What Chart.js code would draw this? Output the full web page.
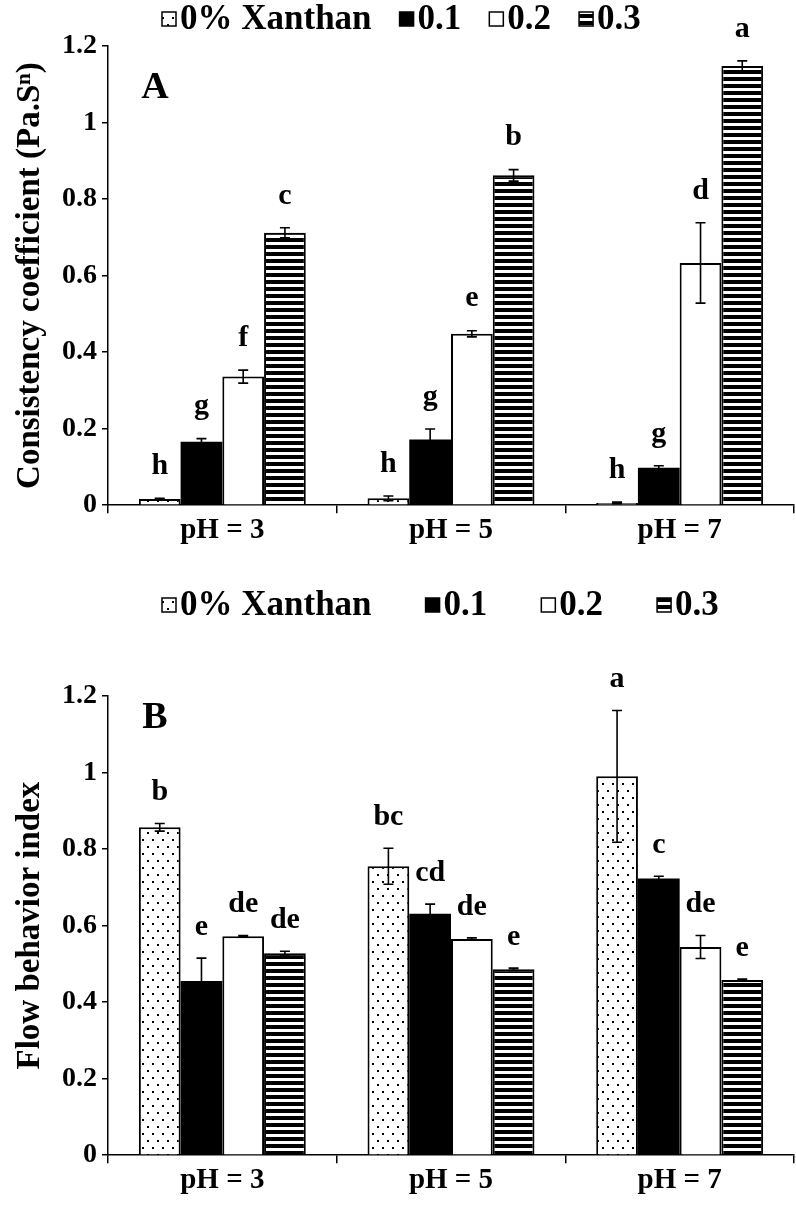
<!DOCTYPE html>
<html><head><meta charset="utf-8">
<script src="https://cdn.jsdelivr.net/npm/chart.js@4.4.0/dist/chart.umd.min.js"></script>
<style>
html,body{margin:0;padding:0;background:#fff;}
#wrap{width:796px;height:1212px;position:relative;background:#fff;}
canvas{display:block;}
</style></head><body>
<div id="wrap">
<div style="position:absolute;left:0;top:0;width:796px;height:570px"><canvas id="cA" width="796" height="570"></canvas></div>
<div style="position:absolute;left:0;top:570px;width:796px;height:642px"><canvas id="cB" width="796" height="642"></canvas></div>
</div>
<script>
// ---------- data ----------
const categories = ['pH = 3', 'pH = 5', 'pH = 7'];
const seriesNames = ['0% Xanthan', '0.1', '0.2', '0.3'];

// Panel A: consistency coefficient (Pa.S^n)
const consistency0  = [0.016, 0.018, 0.006];
const consistency01 = [0.166, 0.172, 0.098];
const consistency02 = [0.336, 0.448, 0.633];
const consistency03 = [0.712, 0.862, 1.148];
const consistencyErr0  = [0.002, 0.006, 0.002];
const consistencyErr01 = [0.008, 0.027, 0.005];
const consistencyErr02 = [0.017, 0.008, 0.105];
const consistencyErr03 = [0.013, 0.015, 0.013];
const consistencyLetters0  = ['h', 'h', 'h'];
const consistencyLetters01 = ['g', 'g', 'g'];
const consistencyLetters02 = ['f', 'e', 'd'];
const consistencyLetters03 = ['c', 'b', 'a'];

// Panel B: flow behavior index
const flow0  = [0.857, 0.755, 0.990];
const flow01 = [0.455, 0.631, 0.723];
const flow02 = [0.572, 0.565, 0.544];
const flow03 = [0.528, 0.486, 0.458];
const flowErr0  = [0.010, 0.047, 0.172];
const flowErr01 = [0.060, 0.025, 0.006];
const flowErr02 = [0.002, 0.003, 0.030];
const flowErr03 = [0.005, 0.003, 0.002];
const flowLetters0  = ['b', 'bc', 'a'];
const flowLetters01 = ['e', 'cd', 'c'];
const flowLetters02 = ['de', 'de', 'de'];
const flowLetters03 = ['de', 'e', 'e'];

const yMin = 0, yMax = 1.2, yStep = 0.2;

// ---------- styles ----------
const FONT = "'Liberation Serif','Times New Roman',serif";

function makePatterns() {
  const ref = document.createElement('canvas').getContext('2d');
  const d = document.createElement('canvas'); d.width = 10; d.height = 14;
  let c = d.getContext('2d');
  c.fillStyle = '#fff'; c.fillRect(0, 0, 10, 14);
  c.fillStyle = '#000'; c.fillRect(2, 3, 2, 2); c.fillRect(7, 10, 2, 2);
  const s = document.createElement('canvas'); s.width = 8; s.height = 7;
  c = s.getContext('2d');
  c.fillStyle = '#fff'; c.fillRect(0, 0, 8, 7);
  c.fillStyle = '#000'; c.fillRect(0, 0, 8, 4);
  return { dots: ref.createPattern(d, 'repeat'), stripes: ref.createPattern(s, 'repeat') };
}
const P = makePatterns();
const fills = [P.dots, '#000', '#fff', P.stripes];

const errorPlugin = {
  id: 'errbars',
  afterDatasetsDraw(chart, args, opts) {
    const ctx = chart.ctx, y = chart.scales.y;
    chart.data.datasets.forEach((ds, di) => {
      const meta = chart.getDatasetMeta(di);
      meta.data.forEach((bar, i) => {
        const v = ds.data[i], e = ds.errors[i];
        const yt = y.getPixelForValue(v + e), yb = y.getPixelForValue(Math.max(0, v - e));
        ctx.save();
        ctx.strokeStyle = '#000'; ctx.lineWidth = 1.6;
        ctx.beginPath();
        ctx.moveTo(bar.x, yt); ctx.lineTo(bar.x, yb);
        ctx.moveTo(bar.x - 5, yt); ctx.lineTo(bar.x + 5, yt);
        ctx.moveTo(bar.x - 5, yb); ctx.lineTo(bar.x + 5, yb);
        ctx.stroke();
        ctx.font = 'bold 30px ' + FONT;
        ctx.textAlign = 'center'; ctx.textBaseline = 'middle'; ctx.fillStyle = '#000';
        ctx.fillText(ds.letters[i], bar.x, yt - opts.gap);
        ctx.restore();
      });
    });
  }
};

const decorPlugin = {
  id: 'decor',
  afterDraw(chart, args, opts) {
    const ctx = chart.ctx, ca = chart.chartArea;
    ctx.save();
    // panel letter
    ctx.font = 'bold 38px ' + FONT;
    ctx.fillStyle = '#000'; ctx.textAlign = 'center'; ctx.textBaseline = 'middle';
    ctx.fillText(opts.panel, ca.left + opts.panelDx, ca.top + opts.panelDy);
    // legend
    let x = opts.legendX;
    const cy = opts.legendY;
    ctx.font = 'bold 35px ' + FONT;
    ctx.textAlign = 'left';
    chart.data.datasets.forEach((ds) => {
      ctx.fillStyle = ds.backgroundColor;
      ctx.fillRect(x, cy - 7, 14, 14);
      ctx.strokeStyle = '#000'; ctx.lineWidth = 1.5;
      ctx.strokeRect(x, cy - 7, 14, 14);
      ctx.fillStyle = '#000';
      ctx.fillText(ds.label, x + 18, cy + 1);
      x += 18 + ctx.measureText(ds.label).width + opts.legendGap;
    });
    ctx.restore();
  }
};

function buildDatasets(vals, errs, letters) {
  return seriesNames.map((name, k) => ({
    label: name,
    data: vals[k],
    errors: errs[k],
    letters: letters[k],
    backgroundColor: fills[k],
    borderColor: '#000',
    borderWidth: k === 1 ? 0 : 2,
    borderSkipped: 'bottom',
    categoryPercentage: 0.73,
    barPercentage: 1.0
  }));
}

function makeChart(id, vals, errs, letters, yTitle, pad, decor, gap) {
  return new Chart(document.getElementById(id), {
    type: 'bar',
    data: { labels: categories, datasets: buildDatasets(vals, errs, letters) },
    options: {
      responsive: false,
      devicePixelRatio: 1,
      animation: false,
      layout: { padding: pad },
      plugins: {
        legend: { display: false },
        tooltip: { enabled: false },
        errbars: { gap: gap },
        decor: decor
      },
      scales: {
        x: {
          offset: true,
          grid: { display: true, offset: true, drawOnChartArea: false, drawTicks: true, tickLength: 8, color: '#000', lineWidth: 1.5 },
          border: { display: true, color: '#000', width: 1.5 },
          ticks: { color: '#000', font: { family: FONT, size: 29, weight: 'bold' }, padding: 0, maxRotation: 0 }
        },
        y: {
          min: yMin, max: yMax,
          afterFit(s) { s.width = 108 - pad.left; },
          grid: { display: true, drawOnChartArea: false, drawTicks: true, tickLength: 6, color: '#000', lineWidth: 1.5 },
          border: { display: true, color: '#000', width: 1.5 },
          ticks: { stepSize: yStep, color: '#000', font: { family: FONT, size: 28, weight: 'bold' }, padding: 5,
                   callback: (v) => String(+(+v).toFixed(2)) },
          title: { display: true, text: yTitle, color: '#000', font: { family: FONT, size: 33, weight: 'bold' }, padding: { top: 11, bottom: 0 } }
        }
      }
    },
    plugins: [errorPlugin, decorPlugin]
  });
}

makeChart('cA',
  [consistency0, consistency01, consistency02, consistency03],
  [consistencyErr0, consistencyErr01, consistencyErr02, consistencyErr03],
  [consistencyLetters0, consistencyLetters01, consistencyLetters02, consistencyLetters03],
  'Consistency coefficient (Pa.S\u207F)',
  { top: 46, left: 0, right: 2, bottom: 22 },
  { panel: 'A', panelDx: 47, panelDy: 42, legendX: 162, legendY: 19, legendGap: 28 },
  32);

makeChart('cB',
  [flow0, flow01, flow02, flow03],
  [flowErr0, flowErr01, flowErr02, flowErr03],
  [flowLetters0, flowLetters01, flowLetters02, flowLetters03],
  'Flow behavior index',
  { top: 126, left: 0, right: 2, bottom: 14 },
  { panel: 'B', panelDx: 47, panelDy: 22, legendX: 162, legendY: 35, legendGap: 54 },
  31);
</script>
</body></html>
